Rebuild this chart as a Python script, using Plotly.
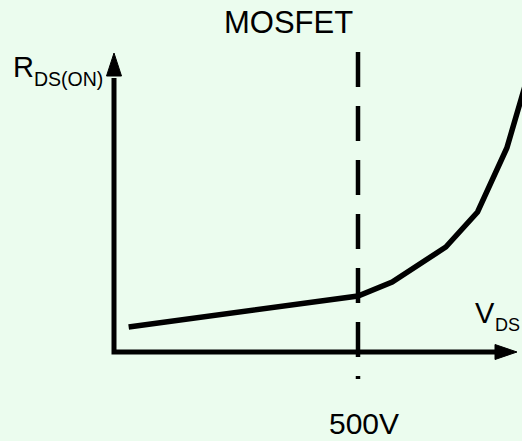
import plotly.graph_objects as go

# ---- data ----
vds = [30, 500, 570, 680, 745, 805, 835, 852]          # V_DS (volts)
rds = [2.5, 5.6, 7.0, 10.5, 14.0, 20.4, 25.4, 28.2]    # R_DS(ON) (arb. units)
threshold_v = 500
threshold_label = "500V"
title_text = "MOSFET"
x_label_main, x_label_sub = "V", "DS"
y_label_main, y_label_sub = "R", "DS(ON)"

# ---- layout geometry ----
W, H = 522, 441
X0_PX, Y0_PX = 114, 352      # pixel position of axis origin
SX, SY = 0.488, 10.0         # pixels per data unit

def xd(px):
    return (px - X0_PX) / SX

def yd(py):
    return (Y0_PX - py) / SY

BG = "#EBFCEE"
FONT = "Liberation Sans, Arial, sans-serif"

fig = go.Figure()
fig.add_trace(go.Scatter(
    x=vds, y=rds, mode="lines",
    line=dict(color="black", width=5.5),
    hoverinfo="skip", showlegend=False,
))

shapes = [
    # axes
    dict(type="path", xref="x", yref="y",
         path=f"M 0,{yd(78)} L 0,0 L {xd(498)},0",
         line=dict(color="black", width=5)),
    # arrowheads
    dict(type="path", xref="x", yref="y",
         path=f"M {xd(106.5)},{yd(76)} L {xd(114)},{yd(53)} L {xd(121.5)},{yd(76)} Z",
         fillcolor="black", line=dict(color="black", width=1)),
    dict(type="path", xref="x", yref="y",
         path=f"M {xd(495)},{yd(344.5)} L {xd(517)},{yd(352)} L {xd(495)},{yd(359.5)} Z",
         fillcolor="black", line=dict(color="black", width=1)),
    # dashed threshold line
    dict(type="line", xref="x", yref="y",
         x0=threshold_v, x1=threshold_v, y0=yd(52), y1=yd(379),
         line=dict(color="black", width=4.5, dash="35px,19px")),
]

def ann(text, px, py, size, yanchor="middle"):
    return dict(text=text, x=xd(px), y=yd(py), xref="x", yref="y",
                showarrow=False, xanchor="center", yanchor=yanchor,
                borderpad=0,
                font=dict(family=FONT, size=size, color="black"))

annotations = [
    ann(title_text, 288.5, 22.5, 31),
    ann(threshold_label, 364, 440.5, 30, yanchor="bottom"),
    ann(y_label_main, 23, 66.5, 29),
    ann(y_label_sub, 68.5, 79, 19.5),
    ann(x_label_main, 484.5, 313, 29),
    ann(x_label_sub, 507, 325, 18),
]

fig.update_layout(
    width=W, height=H,
    margin=dict(l=0, r=0, t=0, b=0),
    paper_bgcolor=BG, plot_bgcolor=BG,
    xaxis=dict(range=[xd(0), xd(W)], visible=False, fixedrange=True),
    yaxis=dict(range=[yd(H), yd(0)], visible=False, fixedrange=True),
    shapes=shapes, annotations=annotations,
    showlegend=False,
)

fig.write_html(
    "out.html",
    config={"displayModeBar": False},
    post_script="document.body.style.margin='0';document.body.style.padding='0';"
                "document.body.style.background='" + BG + "';",
)
